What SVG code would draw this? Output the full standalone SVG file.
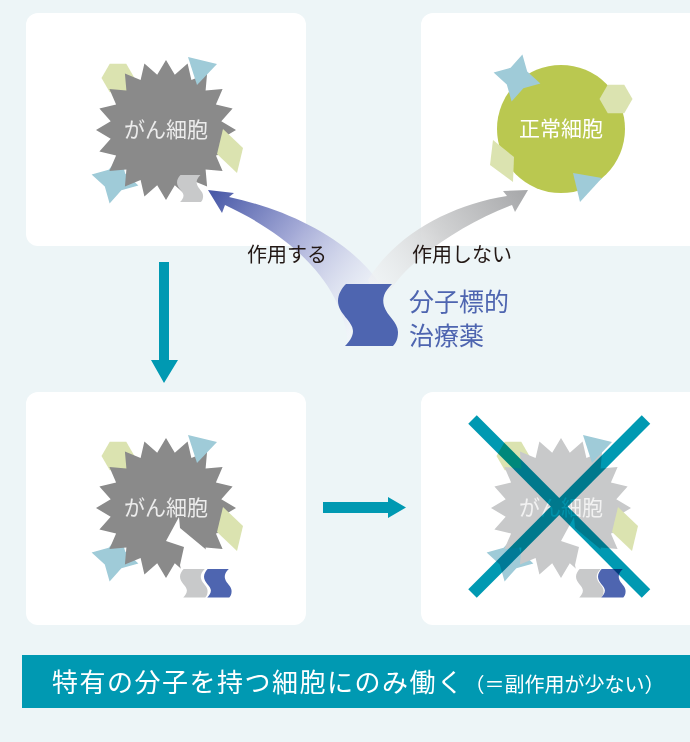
<svg xmlns="http://www.w3.org/2000/svg" width="690" height="742" viewBox="0 0 690 742">
<style>
text{font-family:"Noto Sans CJK JP","Noto Sans CJK SC",sans-serif}
.panel{fill:#fff}
.hex,.rhomb{fill:#dbe3b0}
.tri,.star{fill:#9fcbd8}
.teal{fill:#0099b2}
.lbl{font-size:20px;fill:#231815}
.cell-lbl{font-size:21px;text-anchor:middle}
.recept{fill:#c8c9ca}
.drug{fill:#4e65b0}
.crack{fill:#fff}
</style>
<defs>
  <!-- spiky outline of a cancer cell, centred on 0,0 -->
  <polygon id="burst" points="70,0 55.3,8.8 66.6,21.6 49.9,25.4 56.6,41.1 39.6,39.6 41.1,56.6 25.4,49.9 21.6,66.6 8.8,55.3 0,70 -8.8,55.3 -21.6,66.6 -25.4,49.9 -41.1,56.6 -39.6,39.6 -56.6,41.1 -49.9,25.4 -66.6,21.6 -55.3,8.8 -70,0 -55.3,-8.8 -66.6,-21.6 -49.9,-25.4 -56.6,-41.1 -39.6,-39.6 -41.1,-56.6 -25.4,-49.9 -21.6,-66.6 -8.8,-55.3 0,-70 8.8,-55.3 21.6,-66.6 25.4,-49.9 41.1,-56.6 39.6,-39.6 56.6,-41.1 49.9,-25.4 66.6,-21.6 55.3,-8.8"/>
  <polygon id="hexagon" points="16.5,0 8.25,14.3 -8.25,14.3 -16.5,0 -8.25,-14.3 8.25,-14.3"/>
  <polygon id="star4" points="5.4,-23.4 10.2,-6.4 23.4,5.4 6.4,10.2 -5.4,23.4 -10.2,6.4 -23.4,-5.4 -6.4,-10.2"/>
  <!-- wavy band used for the drug and the surface receptors (60 x 62 box) -->
  <path id="wave" d="M8,0 H54 C46,8 44,14 46,22 C49,32 60,38 60,48 C60,55 58,59 55,62 H7 C11,58 15,53 15,47 C15,37 0,30 0,17 C0,10 4,4 8,0 Z"/>
  <!-- surface markers drawn behind / in front of the cancer cell body -->
  <g id="decoBack">
    <use href="#hexagon" class="hex" transform="translate(-48,-52)"/>
    <use href="#star4" class="star" transform="translate(-51,50)"/>
  </g>
  <g id="decoFront">
    <polygon class="tri" points="22,-73 51,-66 31,-45"/>
    <polygon class="rhomb" points="57,-1 77,18 71,43 51,24"/>
  </g>
  <polygon id="crackShape" class="crack" points="13,9 0,33 18,39 14,57 19,82 64,82 64,57 49,49 14,20"/>
  <linearGradient id="gBlue" gradientUnits="userSpaceOnUse" x1="212" y1="195" x2="365" y2="315">
    <stop offset="0" stop-color="#4a5aa8"/>
    <stop offset="0.45" stop-color="#a3a9d6"/>
    <stop offset="1" stop-color="#f3f4fa" stop-opacity="0.5"/>
  </linearGradient>
  <linearGradient id="gGray" gradientUnits="userSpaceOnUse" x1="522" y1="195" x2="380" y2="300">
    <stop offset="0" stop-color="#a9aaac"/>
    <stop offset="0.5" stop-color="#d2d3d4"/>
    <stop offset="1" stop-color="#f2f3f4" stop-opacity="0.5"/>
  </linearGradient>
</defs>

<rect width="690" height="742" fill="#edf5f7"/>

<!-- panels -->
<g id="panels">
  <rect class="panel" x="26" y="13" width="280" height="233" rx="12"/>
  <rect class="panel" x="421" y="13" width="290" height="233" rx="12"/>
  <rect class="panel" x="26" y="392" width="280" height="233" rx="12"/>
  <rect class="panel" x="421" y="392" width="290" height="233" rx="12"/>
</g>

<!-- cancer cell, untreated -->
<g id="cancer-cell" transform="translate(166,130)">
  <use href="#decoBack"/>
  <use href="#burst" fill="#8a8a8a"/>
  <use href="#decoFront"/>
  <use href="#wave" class="recept" transform="translate(11,45) scale(0.435)"/>
  <text class="cell-lbl" x="0" y="7" fill="#ececec">がん細胞</text>
</g>

<!-- normal cell -->
<g id="normal-cell" transform="translate(561,129)">
  <circle r="64" fill="#bac850"/>
  <use href="#star4" class="star" transform="translate(-44,-51)"/>
  <use href="#hexagon" class="hex" transform="translate(55,-30)"/>
  <polygon class="rhomb" points="-68,11 -47,28 -48,53 -71,36"/>
  <polygon class="tri" points="12,44 41,49 19,73"/>
  <text class="cell-lbl" x="0" y="7" fill="#fff">正常細胞</text>
</g>

<!-- cancer cell with drug bound -->
<g id="cancer-cell-bound" transform="translate(166,508)">
  <use href="#decoBack"/>
  <use href="#burst" fill="#8a8a8a"/>
  <use href="#crackShape"/>
  <use href="#decoFront"/>
  <use href="#wave" class="recept" transform="translate(14,61) scale(0.46)"/>
  <use href="#wave" class="drug" transform="translate(38,61) scale(0.46)"/>
  <text class="cell-lbl" x="0" y="7" fill="#ececec">がん細胞</text>
</g>

<!-- cancer cell eliminated -->
<g id="cancer-cell-dead" transform="translate(561,508)">
  <use href="#decoBack"/>
  <use href="#burst" fill="#c8c9ca"/>
  <use href="#crackShape"/>
  <use href="#decoFront"/>
  <use href="#wave" class="recept" transform="translate(15,61) scale(0.46)"/>
  <use href="#wave" class="drug" transform="translate(37,61) scale(0.46)"/>
  <text class="cell-lbl" x="0" y="7" fill="#f2f2f2">がん細胞</text>
  <g style="mix-blend-mode:multiply" stroke="#0099b2" stroke-width="12">
    <line x1="-88.5" y1="-88.5" x2="85" y2="85.5"/>
    <line x1="85" y1="-88.5" x2="-88.5" y2="85.5"/>
  </g>
</g>

<!-- connectors -->
<g id="connectors">
  <path id="acts" fill="url(#gBlue)" d="M208,190 L234,193 L229,197 C290,210 350,240 380,284 L360,300 L348,346 C345,290 300,240 225,205 L222,213 Z"/>
  <path id="no-act" fill="url(#gGray)" d="M528,190 L515,212 L512,205 C460,225 410,260 392,288 L384,294 L374,294 L368,280 C395,235 450,205 507,196 L503,191 Z"/>
  <polygon class="teal" points="159,262 169,262 169,360 178,360 164,383 151,360 159,360"/>
  <polygon class="teal" points="323,502 388,502 388,497 406,507.5 388,518 388,513 323,513"/>
  <text class="lbl" x="247" y="262">作用する</text>
  <text class="lbl" x="412" y="262">作用しない</text>
</g>

<!-- drug -->
<g id="drug">
  <use href="#wave" class="drug" transform="translate(338,284)"/>
  <text x="409" y="311" font-size="25" fill="#4e65b0">分子標的</text>
  <text x="409" y="345" font-size="25" fill="#4e65b0">治療薬</text>
</g>

<!-- summary banner -->
<g id="banner">
  <rect x="22" y="655" width="680" height="53" fill="#0099b2"/>
  <text x="52" y="692" font-size="26" letter-spacing="1.5" fill="#fff">特有の分子を持つ細胞にのみ働く<tspan font-size="20" letter-spacing="0">（＝副作用が少ない）</tspan></text>
</g>
</svg>
